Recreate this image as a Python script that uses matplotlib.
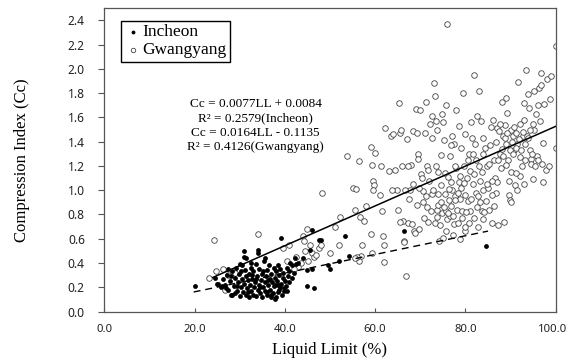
import matplotlib
matplotlib.use("Agg")
import matplotlib.pyplot as plt
import matplotlib.transforms as mtransforms
import numpy as np

# Incheon (filled) - liquid limit (%), compression index
incheon_ll = [
    20.2, 24.6, 25.2, 25.8, 26.3, 26.8, 27.2, 27.5, 27.9, 28.2, 28.4, 28.7, 29.0, 29.2, 29.4,
    29.6, 29.9, 30.1, 30.3, 30.5, 30.6, 30.8, 31.0, 31.1, 31.3, 31.5, 31.6, 31.8, 32.0, 32.1,
    32.3, 32.4, 32.6, 32.8, 33.0, 33.0, 33.2, 33.4, 33.5, 33.7, 33.9, 34.0, 34.2, 34.3, 34.5,
    34.7, 34.9, 35.0, 35.1, 35.3, 35.5, 35.6, 35.8, 36.0, 36.1, 36.3, 36.5, 36.6, 36.8, 37.0,
    37.1, 37.3, 37.5, 37.6, 37.8, 38.0, 38.1, 38.3, 38.5, 38.6, 38.8, 39.0, 39.1, 39.3, 39.5,
    39.7, 40.0, 40.2, 40.4, 40.7, 41.0, 41.2, 41.5, 42.0, 42.2, 28.0, 29.5, 30.2, 31.9, 33.6,
    35.2, 36.9, 38.4, 39.9, 32.7, 34.6, 36.2, 37.9, 30.9, 32.5, 34.1, 35.7, 27.3, 39.2, 46.0,
    47.5, 48.0, 53.3, 54.3, 46.5, 45.0, 50.0, 49.5, 52.0, 66.3, 84.5, 45.5, 45.0, 46.0, 44.0,
    43.0, 42.5, 41.5, 41.0, 40.5, 39.8, 39.0, 38.5, 37.8, 37.0, 36.0, 34.0, 31.0, 31.5, 30.0,
    29.0, 28.0, 27.0, 26.0, 25.0,
]
incheon_cc = [
    0.21, 0.28, 0.23, 0.20, 0.27, 0.22, 0.30, 0.18, 0.25, 0.33, 0.14, 0.21, 0.28, 0.36, 0.17,
    0.24, 0.31, 0.13, 0.20, 0.27, 0.38, 0.16, 0.23, 0.34, 0.29, 0.14, 0.19, 0.26, 0.31, 0.12,
    0.22, 0.36, 0.17, 0.27, 0.14, 0.33, 0.20, 0.24, 0.39, 0.13, 0.29, 0.18, 0.22, 0.35, 0.15,
    0.26, 0.31, 0.12, 0.20, 0.42, 0.24, 0.17, 0.29, 0.34, 0.14, 0.22, 0.38, 0.27, 0.18, 0.31,
    0.24, 0.15, 0.36, 0.21, 0.28, 0.33, 0.12, 0.25, 0.38, 0.18, 0.30, 0.35, 0.23, 0.14, 0.28,
    0.32, 0.25, 0.21, 0.36, 0.29, 0.24, 0.40, 0.28, 0.32, 0.44, 0.29, 0.21, 0.33, 0.16, 0.27,
    0.33, 0.12, 0.16, 0.19, 0.30, 0.20, 0.26, 0.22, 0.45, 0.40, 0.48, 0.44, 0.35, 0.61, 0.67,
    0.59, 0.59, 0.62, 0.46, 0.19, 0.21, 0.35, 0.38, 0.42, 0.66, 0.54, 0.51, 0.34, 0.35, 0.44,
    0.40, 0.39, 0.38, 0.33, 0.17, 0.17, 0.20, 0.22, 0.10, 0.14, 0.16, 0.51, 0.50, 0.44, 0.39,
    0.15, 0.14, 0.19, 0.21, 0.23,
]

# Gwangyang (open)
gwangyang_ll = [
    23.3, 24.2, 24.8, 26.4, 26.7, 34.1, 27.5, 29.0, 39.5, 41.0, 42.5, 43.5, 44.0, 44.2, 45.0,
    45.5, 46.0, 46.5, 47.0, 47.5, 48.0, 48.3, 44.5, 45.2, 43.0, 42.0, 40.5, 38.0,
    50.0, 51.0, 52.0, 52.3, 53.7, 55.0, 55.8, 56.5, 55.5, 56.7, 57.5, 57.2, 56.8, 56.5, 58.0,
    59.0, 59.2, 59.0, 59.5, 59.8, 59.6, 60.0, 56.0, 55.5, 59.2,
    61.0, 61.2, 61.5, 61.7, 62.0, 62.0, 62.2, 63.0, 63.5, 64.0, 64.3, 64.8, 65.0, 65.3, 65.5,
    65.8, 66.0, 66.2, 66.5, 66.8, 66.3, 67.0, 67.3, 67.5, 67.8, 68.0, 68.2, 68.5, 68.6, 68.8,
    69.0, 69.3, 69.5, 69.6, 69.8, 70.0, 70.2, 70.5, 70.5, 71.0, 71.2, 71.5, 71.5, 71.8, 72.0,
    72.2, 72.5, 72.5, 72.7, 73.0, 73.2, 73.4, 73.5, 73.6, 73.8, 74.0, 74.0, 74.2, 74.5, 74.6,
    74.8, 75.0, 75.0, 75.2, 75.4, 75.5, 75.6, 75.8, 75.9, 76.0, 76.2, 76.3, 76.5, 76.6, 76.8,
    77.0, 77.0, 77.2, 77.5, 77.5, 77.7, 78.0, 78.0, 78.2, 78.3, 78.5, 78.6, 78.8, 78.9, 79.0,
    79.2, 79.5, 79.6, 79.8, 80.0, 80.0, 80.0, 80.3, 80.5, 80.7, 81.0, 81.0, 81.2, 81.5, 81.8,
    82.0, 82.0, 82.2, 82.3, 82.5, 82.6, 82.8, 83.0, 83.0, 83.2, 83.5, 83.6, 83.8, 84.0, 84.0,
    84.3, 84.5, 84.7, 85.0, 85.2, 85.5, 85.7, 86.0, 86.2, 86.4, 86.5, 86.7, 87.0, 87.0, 87.3,
    87.5, 87.7, 88.0, 88.2, 88.3, 88.5, 88.7, 89.0, 89.0, 89.2, 89.5, 89.6, 89.7, 89.8, 90.0,
    90.0, 90.2, 90.5, 90.7, 91.0, 91.2, 91.4, 91.5, 91.7, 92.0, 92.0, 92.2, 92.5, 92.8, 93.0,
    93.0, 93.2, 93.5, 93.7, 93.8, 94.0, 94.2, 94.5, 94.6, 95.0, 95.0, 95.2, 95.3, 95.5, 95.6,
    95.8, 96.0, 96.0, 96.3, 96.5, 96.7, 96.8, 97.0, 97.2, 97.3, 97.5, 97.8, 98.0, 98.5, 98.8,
    99.0, 100.0, 100.0,
    70.8, 71.3, 72.3, 72.8, 73.3, 73.9, 74.3, 74.7, 75.3, 75.7, 76.1, 76.4, 76.9, 77.3, 77.8,
    78.4, 78.7, 79.3, 79.7, 80.2, 80.8, 81.3, 81.7, 82.4, 82.9, 83.3, 83.7, 84.2, 84.8, 85.3,
    85.8, 86.3, 86.8, 87.2, 87.8, 88.3, 88.8, 89.3, 89.8, 90.3, 90.8, 91.3, 91.8, 92.3, 92.7,
    93.3, 93.8, 94.3, 94.8, 68.3, 69.2, 69.7, 70.3, 71.7, 73.7, 74.9, 76.7, 77.6, 79.1, 80.6,
    81.6, 83.9, 85.9, 87.6, 88.9, 90.6, 91.1, 92.9, 63.8, 66.7, 67.2, 65.6,
]
gwangyang_cc = [
    0.28, 0.59, 0.33, 0.35, 0.18, 0.64, 0.30, 0.32, 0.52, 0.55, 0.45, 0.40, 0.62, 0.58, 0.68,
    0.55, 0.48, 0.45, 0.47, 0.52, 0.55, 0.98, 0.50, 0.42, 0.37, 0.35, 0.42, 0.35,
    0.48, 0.70, 0.55, 0.78, 1.28, 1.02, 1.01, 1.24, 0.84, 0.78, 0.75, 0.55, 0.46, 0.42, 0.87,
    0.64, 1.21, 1.36, 1.08, 1.04, 1.00, 1.31, 0.45, 0.44, 0.48,
    0.96, 1.20, 0.83, 0.62, 0.55, 0.41, 1.51, 1.16, 1.45, 1.46, 1.17, 1.00, 0.84, 1.72, 1.47,
    1.50, 1.20, 0.75, 0.58, 0.29, 0.57, 1.42, 0.73, 0.93, 1.00, 1.21, 0.72, 1.49, 0.66, 0.65,
    1.67, 1.47, 1.30, 1.26, 0.68, 1.66, 1.13, 0.99, 0.90, 1.47, 1.73, 1.20, 0.86, 0.74, 1.08,
    1.55, 1.61, 0.97, 1.43, 1.88, 1.78, 1.57, 1.20, 0.84, 0.78, 1.15, 0.88, 0.58, 1.29, 1.04,
    0.81, 1.56, 0.61, 1.41, 1.14, 0.97, 0.83, 1.70, 0.76, 2.37, 1.11, 0.92, 1.28, 0.79, 1.07,
    1.45, 1.00, 0.79, 1.38, 0.72, 0.95, 1.66, 1.18, 0.84, 0.73, 1.53, 1.07, 0.93, 0.60, 1.02,
    0.83, 1.80, 1.20, 0.66, 1.46, 0.96, 0.70, 1.10, 0.91, 1.30, 1.16, 0.83, 1.56, 1.43, 1.95,
    1.13, 0.77, 1.38, 0.98, 1.61, 0.86, 0.70, 1.82, 1.20, 1.08, 1.57, 0.83, 1.43, 1.00, 0.76,
    1.35, 0.91, 1.20, 1.02, 0.84, 1.37, 1.52, 0.73, 1.58, 1.25, 1.10, 0.98, 1.07, 1.51, 0.71,
    1.49, 1.30, 1.34, 1.73, 1.45, 0.74, 1.54, 1.76, 1.38, 1.64, 1.25, 0.96, 1.08, 0.92, 1.50,
    1.15, 0.90, 1.45, 1.33, 1.04, 1.47, 1.38, 1.00, 1.89, 1.55, 1.27, 1.12, 1.20, 1.45, 1.72,
    1.05, 1.38, 1.99, 1.45, 1.79, 1.68, 1.33, 1.26, 1.22, 1.09, 1.55, 1.50, 1.82, 1.20, 1.63,
    1.28, 1.70, 1.25, 1.84, 1.57, 1.97, 1.87, 1.22, 1.07, 1.39, 1.71, 1.17, 1.92, 1.20, 1.75,
    1.94, 2.19, 1.35,
    0.77, 0.95, 0.83, 1.00, 0.73, 0.97, 0.71, 0.90, 0.86, 0.66, 0.81, 1.01, 0.87, 0.63, 0.92,
    0.98, 1.12, 0.77, 1.06, 0.82, 0.73, 0.93, 1.05, 1.25, 0.95, 0.90, 1.15, 0.82, 1.05, 1.22,
    0.96, 0.87, 1.40, 1.25, 1.18, 1.28, 1.43, 1.47, 1.33, 1.40, 1.52, 1.35, 1.42, 1.33, 1.48,
    1.25, 1.43, 1.50, 1.30, 1.05, 0.88, 1.02, 1.10, 1.17, 1.50, 1.63, 1.37, 1.20, 1.35, 1.25,
    1.30, 1.30, 1.08, 1.55, 1.21, 1.30, 1.14, 1.58, 1.00, 1.00, 1.20, 0.74,
]

# regression lines: slope, intercept, LL range
incheon_fit = (0.0077, 0.0084, 19.8, 85.0)
gwangyang_fit = (0.0164, -0.1135, 24.0, 100.0)

eq_text = ("Cc = 0.0077LL + 0.0084\n"
           "R\u00b2 = 0.2579(Incheon)\n"
           "Cc = 0.0164LL - 0.1135\n"
           "R\u00b2 = 0.4126(Gwangyang)")

serif = "Liberation Serif"
frame_col = "#555555"

fig = plt.figure(figsize=(5.69, 3.6), dpi=100)
ax = fig.add_axes([0.1833, 0.1347, 0.7933, 0.8423])

ax.scatter(gwangyang_ll, gwangyang_cc, s=16, facecolors="white", edgecolors="#444444",
           linewidths=0.6, zorder=2, label="Gwangyang")
ax.scatter(incheon_ll, incheon_cc, s=12, color="black", linewidths=0, zorder=3, label="Incheon")

m, b, x0, x1 = gwangyang_fit
xs = np.array([x0, x1])
ax.plot(xs, m * xs + b, color="black", lw=1.1, zorder=4)
m, b, x0, x1 = incheon_fit
xs = np.array([x0, x1])
ax.plot(xs, m * xs + b, color="black", lw=1.0, ls=(0, (5, 3.5)), zorder=4)

ax.text(33.5, 1.535, eq_text, ha="center", va="center", fontsize=9.5, family=serif,
        linespacing=1.27)

ax.set_xlim(0, 100)
ax.set_ylim(0, 2.5)
ax.set_xticks(np.arange(0, 101, 20))
ax.set_yticks(np.arange(0, 2.41, 0.2))
ax.set_xticklabels([f"{v:.1f}" for v in np.arange(0, 101, 20)])
ax.set_yticklabels([f"{v:.1f}" for v in np.arange(0, 2.41, 0.2)])
ax.tick_params(axis="x", direction="in", length=3, color=frame_col, labelsize=8.2, pad=9)
ax.tick_params(axis="y", direction="out", length=4, color=frame_col, labelsize=8.6, pad=10)
for lab in ax.get_xticklabels() + ax.get_yticklabels():
    lab.set_family("Noto Sans")
    lab.set_color("#222222")
# nudge the last x label so it stays inside the image
last = ax.get_xticklabels()[-1]
last.set_transform(last.get_transform() + mtransforms.ScaledTranslation(-2.5 / 72, 0, fig.dpi_scale_trans))
for sp in ax.spines.values():
    sp.set_color(frame_col)
    sp.set_linewidth(0.9)

ax.set_xlabel("Liquid Limit (%)", family=serif, fontsize=12, labelpad=5)
ax.set_ylabel("Compression Index (Cc)", family=serif, fontsize=12, labelpad=27)

h, l = ax.get_legend_handles_labels()
leg = ax.legend(h[::-1], l[::-1], loc="upper left", bbox_to_anchor=(0.037, 0.959),
                borderaxespad=0, prop={"family": serif, "size": 12.5}, frameon=True,
                fancybox=False, edgecolor="black", framealpha=1, borderpad=0.2,
                handletextpad=0.05, handlelength=1.0, labelspacing=0.1, markerscale=0.8)
leg.get_frame().set_linewidth(1.0)

plt.savefig("out.png", dpi=100)
